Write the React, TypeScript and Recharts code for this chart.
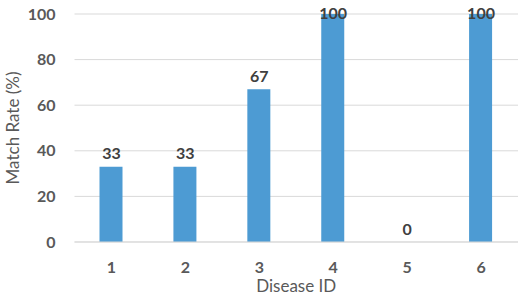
import React from 'react';
import { ComposedChart, Bar, Line, XAxis, YAxis, CartesianGrid } from 'recharts';

const diseaseIds = ['1', '2', '3', '4', '5', '6'];
const matchRates = [33, 33, 67, 100, 0, 100];
const yTicks = [0, 20, 40, 60, 80, 100];

const data = diseaseIds.map((id, i) => ({ id, rate: matchRates[i] }));

const FONT = 'Lato, "Open Sans", sans-serif';

// value label sits above the bar top, but never above the top of the plot
const ValueLabel = (props: any) => {
  const { x, y, value } = props;
  const ty = Math.max(y - 14, 12);
  return (
    <text
      x={x}
      y={ty}
      textAnchor="middle"
      dominantBaseline="central"
      fill="#404040"
      fontSize={16}
      fontWeight="bold"
      fontFamily={FONT}
    >
      {value}
    </text>
  );
};

export default function App() {
  return (
    <div style={{ position: 'fixed', left: 0, top: 0, background: '#fff' }}>
      <ComposedChart
        width={525}
        height={297}
        data={data}
        margin={{ top: 14, right: 7, left: 0, bottom: 0 }}
        barSize={23}
      >
        <CartesianGrid vertical={false} stroke="#d9d9d9" />
        <XAxis
          dataKey="id"
          height={55}
          axisLine={{ stroke: '#d9d9d9' }}
          tickLine={false}
          tickSize={0}
          tickMargin={20}
          tick={{ fill: '#595959', fontSize: 16, fontWeight: 'bold', fontFamily: FONT }}
          label={{
            value: 'Disease ID',
            position: 'insideBottom',
            offset: 5,
            fill: '#595959',
            fontSize: 17,
            fontFamily: FONT,
          }}
        />
        <YAxis
          width={74.5}
          domain={[0, 100]}
          ticks={yTicks}
          axisLine={false}
          tickLine={false}
          tickSize={0}
          tickMargin={19}
          tick={{ fill: '#595959', fontSize: 16, fontWeight: 'bold', fontFamily: FONT }}
          label={{
            value: 'Match Rate (%)',
            angle: -90,
            position: 'insideLeft',
            offset: 13,
            fill: '#595959',
            fontSize: 17,
            fontFamily: FONT,
            style: { textAnchor: 'middle' },
          }}
        />
        <Bar dataKey="rate" fill="#4d9bd3" isAnimationActive={false} />
        <Line
          dataKey="rate"
          stroke="none"
          dot={false}
          activeDot={false}
          legendType="none"
          label={<ValueLabel />}
          isAnimationActive={false}
        />
      </ComposedChart>
    </div>
  );
}
